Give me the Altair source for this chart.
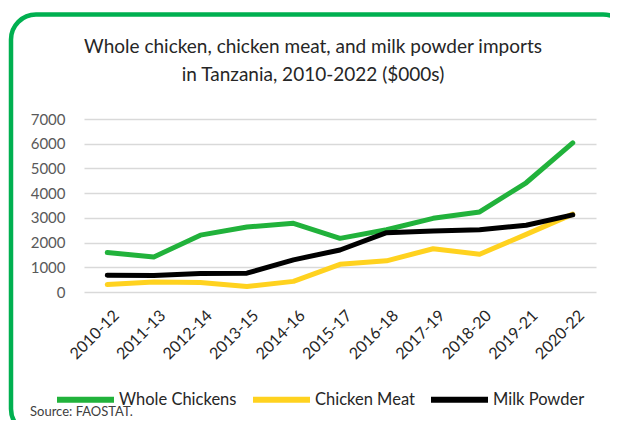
import altair as alt
import pandas as pd

periods = ["2010-12", "2011-13", "2012-14", "2013-15", "2014-16", "2015-17",
           "2016-18", "2017-19", "2018-20", "2019-21", "2020-22"]
whole_chickens = [1600, 1420, 2300, 2630, 2780, 2170, 2520, 2980, 3240, 4420, 6030]
chicken_meat = [300, 400, 380, 220, 430, 1120, 1260, 1750, 1530, 2330, 3150]
milk_powder = [680, 670, 750, 760, 1300, 1700, 2400, 2470, 2520, 2700, 3120]
series_names = ["Whole Chickens", "Chicken Meat", "Milk Powder"]
series_colors = ["#21B23B", "#FFD21F", "#000000"]
title_line1 = "Whole chicken, chicken meat, and milk powder imports"
title_line2 = "in Tanzania, 2010-2022 ($000s)"
source_note = "Source: FAOSTAT."

rows = []
for name, vals in zip(series_names, [whole_chickens, chicken_meat, milk_powder]):
    for p, v in zip(periods, vals):
        rows.append({"period": p, "series": name, "value": v})
df = pd.DataFrame(rows)

FONT = "Lato"

lines = alt.Chart(df).mark_line(strokeWidth=5, strokeCap="round", strokeJoin="round").encode(
    x=alt.X("period:N", sort=periods, scale=alt.Scale(type="point", padding=0.5),
            axis=alt.Axis(title=None, labelAngle=-45, labelAlign="right", labelBaseline="top",
                          labelPadding=15, labelOffset=3, domain=False, ticks=False, tickSize=0,
                          labelFontSize=16, labelColor="#262626", labelFont=FONT)),
    y=alt.Y("value:Q", scale=alt.Scale(domain=[0, 7000], nice=False),
            axis=alt.Axis(title=None, values=[0, 1000, 2000, 3000, 4000, 5000, 6000, 7000],
                          format="d", domain=False, ticks=False, tickSize=0, labelPadding=19,
                          labelFontSize=15, labelColor="#595959", labelFont=FONT,
                          gridColor="#D9D9D9", gridWidth=1.6)),
    color=alt.Color("series:N", sort=series_names,
                    scale=alt.Scale(domain=series_names, range=series_colors),
                    legend=alt.Legend(title=None, orient="none", direction="horizontal",
                                      legendX=-30, legendY=249, symbolType="stroke",
                                      symbolSize=3249, symbolStrokeWidth=6,
                                      labelOffset=2, columnPadding=4, padding=0,
                                      labelFontSize=16.5, labelColor="#262626", labelFont=FONT,
                                      labelLimit=300)),
    order=alt.value(0),
)

def text_line(s, x, y, size, color, align="center", baseline="middle"):
    return alt.Chart(pd.DataFrame({"t": [s]})).mark_text(
        align=align, baseline=baseline, fontSize=size, font=FONT, color=color
    ).encode(x=alt.value(x), y=alt.value(y), text="t:N")

title1 = text_line(title_line1, 229, -72, 19, "#262626")
title2 = text_line(title_line2, 229, -44, 19, "#262626")
src = text_line(source_note, -54, 297, 13, "#404040", align="left", baseline="alphabetic")

border = alt.Chart(pd.DataFrame({"a": [0]})).mark_rect(
    fill=None, stroke="#00B050", strokeWidth=4.5, cornerRadius=25
).encode(x=alt.value(-73), x2=alt.value(544), y=alt.value(-104.5), y2=alt.value(315))

chart = alt.layer(border, lines, title1, title2, src).properties(
    width=512, height=173,
    autosize=alt.AutoSizeParams(type="none"),
    padding={"left": 76, "top": 111, "right": 14, "bottom": 128},
).configure_view(stroke=None)

chart.save("out.html", embed_options={"renderer": "svg", "actions": False})
